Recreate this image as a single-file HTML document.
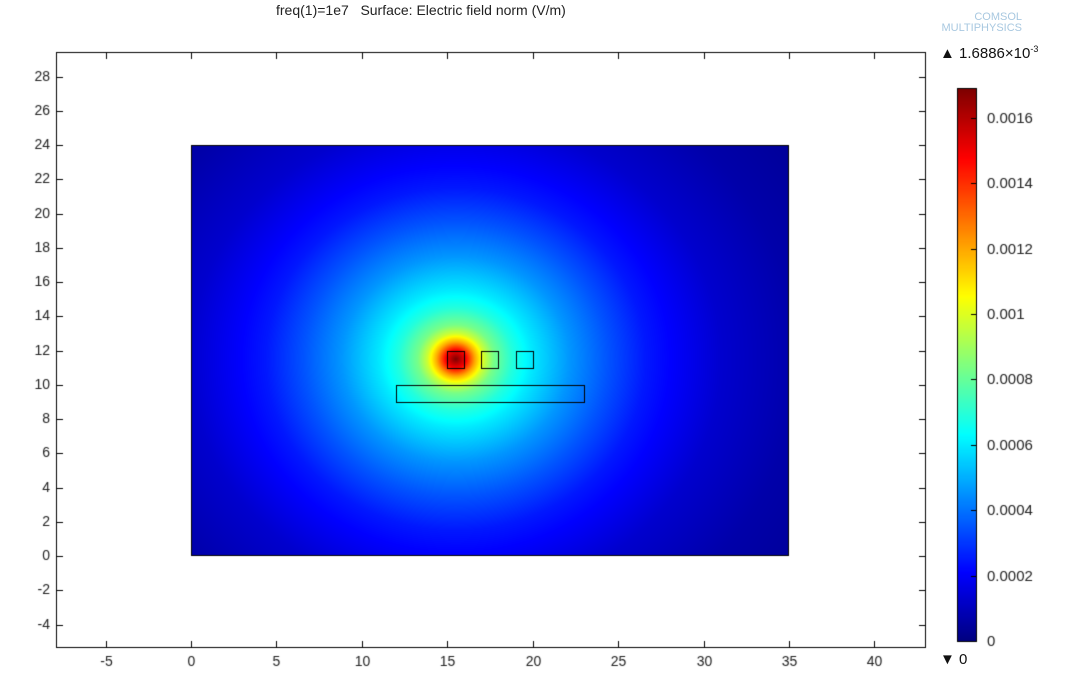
<!DOCTYPE html>
<html><head><meta charset="utf-8"><style>
body{margin:0;background:#fff;width:1068px;height:675px;overflow:hidden;font-family:"Liberation Sans","DejaVu Sans",sans-serif}
#c{position:absolute;left:0;top:0}
</style></head><body>
<canvas id="c" width="1068" height="675"></canvas>
<div style="position:absolute;left:276px;top:2px;font-size:14px;color:#222">freq(1)=1e7&nbsp;&nbsp;&nbsp;Surface: Electric field norm (V/m)</div>
<div style="position:absolute;left:914px;top:12px;font-size:11px;line-height:11px;color:#a8c8e0;text-align:right;width:108px">COMSOL<br>MULTIPHYSICS</div>
<div style="position:absolute;left:940px;top:44px;font-size:15px;color:#111">▲ 1.6886×10<sup style="font-size:9px">-3</sup></div>
<div style="position:absolute;left:940px;top:651px;font-size:15px;color:#111">▼ 0</div>
<script>
const xTicks=[-5,0,5,10,15,20,25,30,35,40];
const yTicks=[-4,-2,0,2,4,6,8,10,12,14,16,18,20,22,24,26,28];
const cbTicks=[0,0.0002,0.0004,0.0006,0.0008,0.001,0.0012,0.0014,0.0016];
const cbTickLabels=["0","0.0002","0.0004","0.0006","0.0008","0.001","0.0012","0.0014","0.0016"];
const vmax=0.0016886;
const fieldCenter=[15.5,11.5];
const profileDist=[0,0.5,1,1.5,2,3,4,6,8,10,14,18,22,30];
const profileVal=[0.00169,0.0015,0.0012,0.00097,0.00083,0.00069,0.0006,0.00046,0.00035,0.00025,0.00013,0.00007,0.00004,0.00002];
const domain=[0,0,35,24];
const squares=[[15,11,1,1],[17,11,1,1],[19,11,1,1],[12,9,11,1]];

const X=v=>191+(v-0)*598/35;
const Y=v=>556-(v)*411/24;
const CB=v=>641-v/vmax*552;
const cv=document.getElementById('c'),ctx=cv.getContext('2d');
function jet(t){const c=x=>Math.max(0,Math.min(1,x));return [c(1.5-Math.abs(4*t-3)),c(1.5-Math.abs(4*t-2)),c(1.5-Math.abs(4*t-1))].map(v=>Math.round(v*255));}
function prof(d){for(let i=1;i<profileDist.length;i++){if(d<=profileDist[i]){const f=(d-profileDist[i-1])/(profileDist[i]-profileDist[i-1]);return profileVal[i-1]+f*(profileVal[i]-profileVal[i-1]);}}return profileVal[profileVal.length-1];}
const x0=Math.round(X(domain[0])),x1=Math.round(X(domain[2])),y0=Math.round(Y(domain[3])),y1=Math.round(Y(domain[1]));
const img=ctx.createImageData(x1-x0,y1-y0);
for(let py=y0;py<y1;py++)for(let px=x0;px<x1;px++){
 const ux=(px+0.5-191)*35/598,uy=(556-py-0.5)*24/411;
 const dx=(ux-fieldCenter[0])*0.9,dy=uy-fieldCenter[1];
 const v=prof(Math.sqrt(dx*dx+dy*dy));
 const [r,g,b]=jet(v/vmax);const k=((py-y0)*(x1-x0)+(px-x0))*4;
 img.data[k]=r;img.data[k+1]=g;img.data[k+2]=b;img.data[k+3]=255;}
ctx.putImageData(img,x0,y0);
ctx.strokeStyle='#000';ctx.lineWidth=1;
ctx.strokeRect(x0+0.5,y0+0.5,x1-x0-1,y1-y0-1);
squares.forEach(s=>{ctx.strokeRect(Math.round(X(s[0]))+0.5,Math.round(Y(s[1]+s[3]))+0.5,Math.round(X(s[0]+s[2])-X(s[0])),Math.round(Y(s[1])-Y(s[1]+s[3])));});
ctx.strokeRect(56.5,52.5,869,595);
ctx.fillStyle='#222';ctx.font='14px "Liberation Sans",sans-serif';
ctx.textAlign='center';ctx.textBaseline='top';
xTicks.forEach(t=>{const p=Math.round(X(t))+0.5;ctx.beginPath();ctx.moveTo(p,647);ctx.lineTo(p,641);ctx.moveTo(p,53);ctx.lineTo(p,59);ctx.stroke();ctx.fillText(String(t),p,655);});
ctx.textAlign='right';ctx.textBaseline='middle';
yTicks.forEach(t=>{const p=Math.round(Y(t))+0.5;ctx.beginPath();ctx.moveTo(57,p);ctx.lineTo(63,p);ctx.moveTo(925,p);ctx.lineTo(919,p);ctx.stroke();ctx.fillText(String(t),50,p);});
for(let py=89;py<641;py++){const [r,g,b]=jet((641-py)/552);ctx.fillStyle=`rgb(${r},${g},${b})`;ctx.fillRect(958,py,18,1);}
ctx.strokeRect(957.5,88.5,19,553);
ctx.fillStyle='#222';ctx.textAlign='left';ctx.font='15px "Liberation Sans",sans-serif';
cbTicks.forEach((t,i)=>{const p=Math.round(CB(t))+0.5;ctx.beginPath();ctx.moveTo(971,p);ctx.lineTo(977,p);ctx.stroke();ctx.fillText(cbTickLabels[i],987,p);});
</script>
</body></html>
